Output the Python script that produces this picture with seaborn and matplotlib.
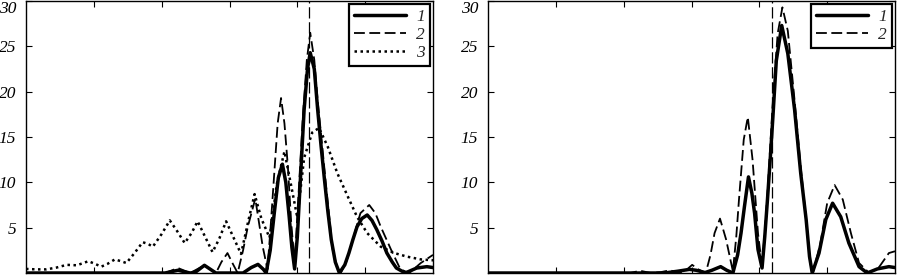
import matplotlib
matplotlib.use("Agg")
import matplotlib.pyplot as plt
import seaborn as sns
import pandas as pd

# left panel, curve 1 (solid)
left_x1 = [0.0, 2.05, 2.24, 2.42, 2.50, 2.63, 2.80, 3.20, 3.32, 3.42, 3.50, 3.54,
           3.60, 3.66, 3.72, 3.78, 3.83, 3.88, 3.92, 3.96, 4.00, 4.05, 4.10, 4.15, 4.19,
           4.25, 4.30, 4.35, 4.40, 4.45, 4.50, 4.56, 4.62, 4.70, 4.76, 4.82, 4.88, 4.95,
           5.03, 5.10, 5.17, 5.25, 5.32, 5.40, 5.46, 5.59, 5.76, 5.91, 6.0]
left_y1 = [0.0, 0.0, 0.3, 0.0, 0.1, 0.85, 0.0, 0.0, 0.6, 0.95, 0.4, 0.0,
           2.5, 6.6, 10.5, 12.0, 10.0, 6.2, 2.8, 0.45, 4.0, 11.0, 18.0, 22.5, 24.3,
           22.5, 18.0, 14.0, 10.3, 6.8, 3.7, 1.2, 0.0, 0.9, 2.2, 3.7, 5.1, 6.0,
           6.4, 5.8, 4.8, 3.5, 2.2, 1.2, 0.55, 0.0, 0.55, 0.7, 0.6]

# left panel, curve 2 (dashed)
left_x2 = [0.0, 2.05, 2.24, 2.42, 2.63, 2.80, 2.88, 2.97, 3.05, 3.12, 3.20, 3.27,
           3.38, 3.49, 3.56, 3.61, 3.66, 3.71, 3.76, 3.81, 3.86, 3.91, 3.96, 4.02,
           4.08, 4.14, 4.19, 4.25, 4.30, 4.36, 4.42, 4.52, 4.58, 4.64, 4.72, 4.79,
           4.86, 4.93, 5.06, 5.15, 5.23, 5.38, 5.52, 5.65, 5.82, 6.0]
left_y2 = [0.0, 0.0, 0.55, 0.0, 0.85, 0.0, 1.2, 2.2, 1.0, 0.0, 2.5, 5.1,
           8.2, 2.9, 0.4, 5.5, 11.0, 16.5, 19.3, 16.5, 11.8, 5.5, 1.1, 9.0,
           17.0, 23.5, 26.5, 23.5, 19.0, 14.5, 9.9, 2.6, 0.8, 0.0, 1.2, 2.9,
           4.8, 6.6, 7.5, 6.6, 5.1, 2.6, 0.4, 0.0, 1.1, 2.0]

# left panel, curve 3 (dotted)
left_x3 = [0.0, 0.15, 0.30, 0.45, 0.60, 0.75, 0.92, 1.02, 1.11, 1.20, 1.31, 1.40,
           1.48, 1.60, 1.72, 1.80, 1.87, 2.00, 2.12, 2.23, 2.34, 2.44, 2.53, 2.64,
           2.75, 2.85, 2.95, 3.06, 3.17, 3.27, 3.37, 3.47, 3.59, 3.70, 3.81, 3.91,
           4.00, 4.10, 4.22, 4.32, 4.45, 4.59, 4.74, 4.88, 5.03, 5.23, 5.43, 5.62,
           5.82, 6.0]
left_y3 = [0.45, 0.4, 0.4, 0.6, 0.9, 0.85, 1.3, 1.0, 0.7, 1.0, 1.5, 1.3,
           1.1, 2.2, 3.4, 3.2, 2.9, 4.3, 5.8, 4.6, 3.3, 4.4, 5.7, 4.0,
           2.3, 3.8, 5.7, 3.9, 2.1, 5.5, 8.7, 6.0, 3.9, 9.9, 13.4, 9.6,
           6.1, 12.7, 15.5, 16.0, 13.9, 11.0, 8.5, 6.2, 4.4, 2.9, 2.2, 1.8,
           1.5, 1.4]

# right panel, curve 1 (solid)
right_x1 = [0.0, 2.60, 2.80, 2.97, 3.07, 3.20, 3.30, 3.43, 3.52, 3.61, 3.68, 3.73,
            3.78, 3.84, 3.89, 3.93, 3.98, 4.04, 4.08, 4.12, 4.16, 4.20, 4.25, 4.33,
            4.42, 4.52, 4.61, 4.69, 4.74, 4.78, 4.88, 4.98, 5.08, 5.20, 5.32, 5.47,
            5.59, 5.74, 5.91, 6.0]
right_y1 = [0.0, 0.0, 0.2, 0.4, 0.3, 0.05, 0.3, 0.7, 0.3, 0.0, 2.0, 4.4,
            7.3, 10.6, 8.8, 6.6, 2.6, 0.55, 4.0, 8.1, 12.5, 17.2, 23.4, 27.3,
            24.2, 18.0, 11.0, 5.9, 1.8, 0.0, 2.2, 5.9, 7.7, 6.2, 3.3, 0.7,
            0.0, 0.45, 0.7, 0.6]

# right panel, curve 2 (dashed)
right_x2 = [0.0, 2.10, 2.24, 2.40, 2.55, 2.68, 2.82, 2.92, 3.01, 3.10, 3.21, 3.28,
            3.34, 3.42, 3.51, 3.61, 3.66, 3.70, 3.77, 3.83, 3.90, 3.98, 4.04, 4.08,
            4.12, 4.20, 4.27, 4.34, 4.42, 4.52, 4.61, 4.69, 4.75, 4.79, 4.90, 5.00,
            5.11, 5.23, 5.35, 5.47, 5.62, 5.77, 5.91, 6.0]
right_y2 = [0.0, 0.0, 0.25, 0.0, 0.1, 0.3, 0.0, 0.3, 0.9, 0.4, 0.0, 2.0,
            4.4, 6.0, 3.7, 0.2, 4.0, 8.1, 14.7, 17.2, 12.5, 4.4, 0.7, 4.5,
            8.8, 19.0, 26.4, 29.3, 26.7, 19.0, 11.7, 5.9, 1.1, 0.0, 3.3, 7.7,
            9.7, 8.1, 4.4, 1.1, 0.0, 0.7, 2.2, 2.4]

marker_left = 4.17
marker_right = 4.19
x_ticks = [1, 2, 3, 4, 5]
y_ticks = [5, 10, 15, 20, 25, 30]

sns.set_style("ticks")
plt.rcParams["font.family"] = ["Liberation Serif", "DejaVu Serif"]
plt.rcParams["font.style"] = "italic"

fig = plt.figure(figsize=(8.98, 2.76), dpi=100)
ax1 = fig.add_axes([26 / 898, 3 / 276, 407 / 898, 272 / 276])
ax2 = fig.add_axes([488 / 898, 3 / 276, 407 / 898, 272 / 276])

solid = dict(color="black", linewidth=2.5, linestyle="-")
dashed = dict(color="black", linewidth=1.3, linestyle=(0, (6, 2.5)))
dotted = dict(color="black", linewidth=1.8, linestyle=(0, (1, 1.4)))

sns.lineplot(x=left_x1, y=left_y1, ax=ax1, label="1", **solid)
sns.lineplot(x=left_x2, y=left_y2, ax=ax1, label="2", **dashed)
sns.lineplot(x=left_x3, y=left_y3, ax=ax1, label="3", **dotted)
ax1.axvline(marker_left, color="black", linewidth=0.9, linestyle=(0, (9, 3)))

sns.lineplot(x=right_x1, y=right_y1, ax=ax2, label="1", **solid)
sns.lineplot(x=right_x2, y=right_y2, ax=ax2, label="2", **dashed)
ax2.axvline(marker_right, color="black", linewidth=0.9, linestyle=(0, (9, 3)))

for ax in (ax1, ax2):
    ax.set_xlim(0, 6)
    ax.set_ylim(0, 30)
    ax.set_xticks(x_ticks)
    ax.set_xticklabels([])
    ax.set_yticks(y_ticks)
    ax.set_yticklabels([str(t) for t in y_ticks])
    ax.tick_params(direction="in", top=True, right=True, length=4, width=0.8,
                   labelsize=12.5, pad=7, colors="black")
    # top label sits just inside the figure edge
    ax.get_yticklabels()[-1].set_verticalalignment("top")
    ax.set_xlabel("")
    ax.set_ylabel("")
    for s in ax.spines.values():
        s.set_color("black")
        s.set_linewidth(1.0)
    leg = ax.legend(loc="upper right", fontsize=12.5, handlelength=3.0,
                    frameon=True, fancybox=False, borderpad=0.3,
                    labelspacing=0.1, handletextpad=0.6, borderaxespad=0.15)
    leg.get_frame().set_edgecolor("black")
    leg.get_frame().set_linewidth(1.6)
    leg.get_frame().set_alpha(1)

fig.savefig("out.png", dpi=100)
